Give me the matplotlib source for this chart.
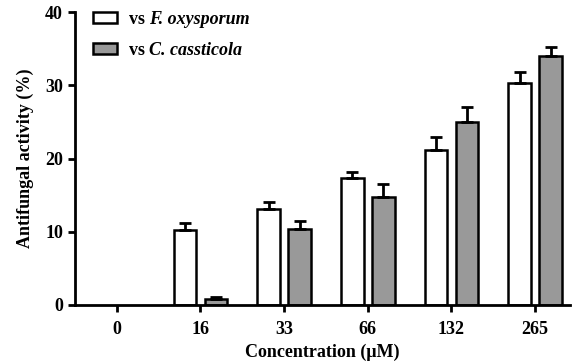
import matplotlib
matplotlib.use("Agg")
import matplotlib.pyplot as plt
import numpy as np

plt.rcParams['font.family'] = 'serif'
plt.rcParams['font.serif'] = ['Liberation Serif']
plt.rcParams['font.weight'] = 'bold'

categories = ['0', '16', '33', '66', '132', '265']
fox = [0, 10.2, 13.1, 17.3, 21.2, 30.3]
fox_err = [0, 1.0, 0.9, 0.8, 1.8, 1.5]
cca = [0, 0.8, 10.3, 14.8, 25.0, 34.0]
cca_err = [0, 0.3, 1.1, 1.7, 2.0, 1.2]
species = ['F. oxysporum', 'C. cassticola']

fig = plt.figure(figsize=(5.76, 3.64), dpi=100)
ax = fig.add_axes([0.130, 0.163, 0.860, 0.803])

x = np.arange(len(categories))
w = 0.27
off = 0.185
ekw = dict(elinewidth=2, capsize=4, capthick=2, ecolor='black')
mask = np.array(fox) > 0
ax.bar(x[mask] - off, np.array(fox)[mask], w, color='white', edgecolor='black', linewidth=1.8,
       yerr=[np.zeros(mask.sum()), np.array(fox_err)[mask]], error_kw=ekw, label='vs')
mask = np.array(cca) > 0
ax.bar(x[mask] + off, np.array(cca)[mask], w, color='#999999', edgecolor='black', linewidth=1.8,
       yerr=[np.zeros(mask.sum()), np.array(cca_err)[mask]], error_kw=ekw, label='vs')

ax.set_xlim(-0.5, 5.42)
ax.set_ylim(0, 40)
ax.set_yticks([0, 10, 20, 30, 40])
ax.set_xticks(x)
ax.set_xticklabels(categories)
for s in ['top', 'right']:
    ax.spines[s].set_visible(False)
for s in ['left', 'bottom']:
    ax.spines[s].set_linewidth(2)
ax.tick_params(width=2, length=5, labelsize=13)
ax.tick_params(axis='x', pad=7)
for lab in ax.get_xticklabels() + ax.get_yticklabels():
    lab.set_fontweight('bold')
ax.set_xlabel('Concentration (μM)', fontsize=13, fontweight='bold', labelpad=4)
ax.set_ylabel('Antifungal activity (%)', fontsize=13, fontweight='bold', labelpad=8)

leg = ax.legend(loc='upper left', bbox_to_anchor=(0.004, 1.06), frameon=False, fontsize=13,
                handlelength=1.3, handleheight=0.55, labelspacing=0.75, handletextpad=0.7)

fig.canvas.draw()
r = fig.canvas.get_renderer()
for t, sp in zip(leg.get_texts(), species):
    bb = t.get_window_extent(r)
    fig.text(bb.x1 + 4, bb.y0 + bb.height / 2, sp, transform=None, fontsize=13,
             fontstyle='italic', fontweight='bold', va='center', ha='left')
fig.savefig('out.png', dpi=100)
